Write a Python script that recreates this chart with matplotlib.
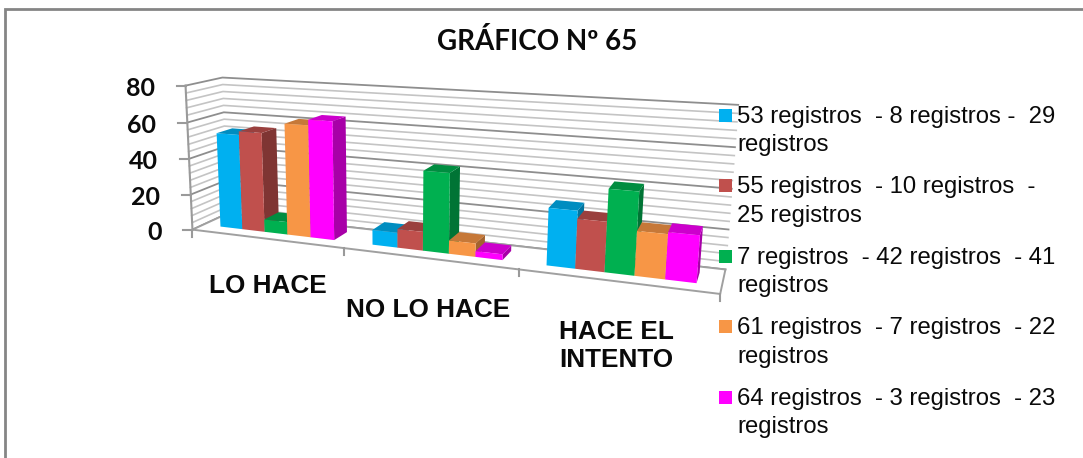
import numpy as np
import matplotlib
matplotlib.use("Agg")
import matplotlib.pyplot as plt
from matplotlib.patches import Polygon, Rectangle

# --- Data ---
categories = ["LO HACE", "NO LO HACE", "HACE EL\nINTENTO"]
series_labels = [
    "53 registros  - 8 registros -  29\nregistros",
    "55 registros  - 10 registros  -\n25 registros",
    "7 registros  - 42 registros  - 41\nregistros",
    "61 registros  - 7 registros  - 22\nregistros",
    "64 registros  - 3 registros  - 23\nregistros",
]
s1 = [53, 8, 29]
s2 = [55, 10, 25]
s3 = [7, 42, 41]
s4 = [61, 7, 22]
s5 = [64, 3, 23]
all_series = [s1, s2, s3, s4, s5]
colors = ["#00B0F0", "#C0504D", "#00B050", "#F79646", "#FF00FF"]
y_ticks = [0, 20, 40, 60, 80]
title = "GRÁFICO Nº 65"

# --- Perspective box, fitted to the corners of the original chart ---
# (category pos, value, depth) -> pixel
box_pts = [(0, 0, 0), (0, 80, 0), (0, 0, 1), (0, 80, 1), (3, 0, 0),
           (3, 0, 1), (3, 80, 1), (1, 0, 0), (2, 0, 0)]
pix_pts = [(195, 229), (183, 85), (225, 214), (225, 78), (720, 295),
           (726, 268), (738, 105), (345, 248), (518, 270)]


def fit_camera(pts, pix):
    rows, rhs = [], []
    for (x, v, d), (u, w) in zip(pts, pix):
        rows.append([x, v, d, 1, 0, 0, 0, 0, -u*x, -u*v, -u*d])
        rows.append([0, 0, 0, 0, x, v, d, 1, -w*x, -w*v, -w*d])
        rhs += [u, w]
    p = np.linalg.lstsq(np.array(rows, float), np.array(rhs, float), rcond=None)[0]
    return np.append(p, 1).reshape(3, 4)


CAM = fit_camera(box_pts, pix_pts)


def proj(x, v, d):
    u, w, s = CAM @ np.array([x, v, d, 1.0])
    return u/s, w/s


def shade(col, f):
    r, g, b = matplotlib.colors.to_rgb(col)
    return (r*f, g*f, b*f)


fig = plt.figure(figsize=(10.83, 4.58), dpi=100)
ax = fig.add_axes([0, 0, 1, 1])
ax.set_xlim(0, 1083)
ax.set_ylim(458, 0)
ax.axis("off")

# outer chart frame
ax.add_patch(Rectangle((5, 9), 1090, 470, fc="white", ec="#858585", lw=2.0))

ax.text(537, 41, title, ha="center", va="center", fontsize=20,
        fontweight="bold", family="Lato", color="#0a0a0a")

# walls
for v in np.arange(0, 81, 4):
    major = v % 20 == 0
    col = "#8e8e8e" if major else "#c4c4c4"
    lw = 1.3 if major else 1.2
    a, b, c = proj(0, v, 0), proj(0, v, 1), proj(3, v, 1)
    ax.plot([a[0], b[0], c[0]], [a[1], b[1], c[1]], color=col, lw=lw, zorder=2)

# floor
floor = [proj(0, 0, 0), proj(3, 0, 0), proj(3, 0, 1), proj(0, 0, 1)]
ax.add_patch(Polygon(floor, closed=True, fc="white", ec="#a0a0a0", lw=1.4, zorder=3))

# value axis with ticks
top, bot = proj(0, 80, 0), proj(0, 0, 0)
ax.plot([top[0], bot[0]], [top[1], bot[1]], color="#9a9a9a", lw=1.5, zorder=3)
for t in y_ticks:
    px, py = proj(0, t, 0)
    ax.plot([px-9, px], [py, py], color="#9a9a9a", lw=1.5, zorder=3)
    ax.text(px-31, py+2.5, str(t), ha="right", va="center", fontsize=18,
            fontweight="bold", family="Lato", color="#0a0a0a", zorder=5)

# category ticks
for i in range(4):
    px, py = proj(i, 0, 0)
    ax.plot([px, px], [py, py+7], color="#9a9a9a", lw=1.5, zorder=3)

# bars
n = len(all_series)
gap = 0.12
bw = (1 - 2*gap)/n
d0, d1 = 0.3, 0.74
z = 10
for c in range(len(categories)):
    for j in range(n):
        v = all_series[j][c]
        x0 = c + gap + j*bw
        x1 = x0 + bw
        col = colors[j]
        top_face = [proj(x0, v, d0), proj(x1, v, d0), proj(x1, v, d1), proj(x0, v, d1)]
        side_face = [proj(x1, 0, d0), proj(x1, v, d0), proj(x1, v, d1), proj(x1, 0, d1)]
        front_face = [proj(x0, 0, d0), proj(x1, 0, d0), proj(x1, v, d0), proj(x0, v, d0)]
        ax.add_patch(Polygon(side_face, closed=True, fc=shade(col, 0.66), ec="none", zorder=z))
        ax.add_patch(Polygon(top_face, closed=True, fc=shade(col, 0.8), ec="none", zorder=z+1))
        ax.add_patch(Polygon(front_face, closed=True, fc=col, ec="none", zorder=z+2))
        z += 3

# category labels
cat_pos = [(268, 286), (428, 310), (616, 346)]
for name, (px, py) in zip(categories, cat_pos):
    ax.text(px, py, name, ha="center", va="center", fontsize=18.8, fontweight="bold",
            family="Liberation Sans", color="#0a0a0a", linespacing=1.22, zorder=5)

# legend
for j, lab in enumerate(series_labels):
    yc = 115.5 + j*70.4
    ax.add_patch(Rectangle((719, yc-6.5), 13, 13, fc=colors[j], ec="none", zorder=6))
    line1, line2 = lab.split("\n")
    ax.text(737, yc+1.5, line1, ha="left", va="center", fontsize=17.2,
            family="Liberation Sans", color="#0a0a0a", zorder=6)
    ax.text(737, yc+30, line2, ha="left", va="center", fontsize=17.2,
            family="Liberation Sans", color="#0a0a0a", zorder=6)

fig.savefig("out.png", dpi=100)
